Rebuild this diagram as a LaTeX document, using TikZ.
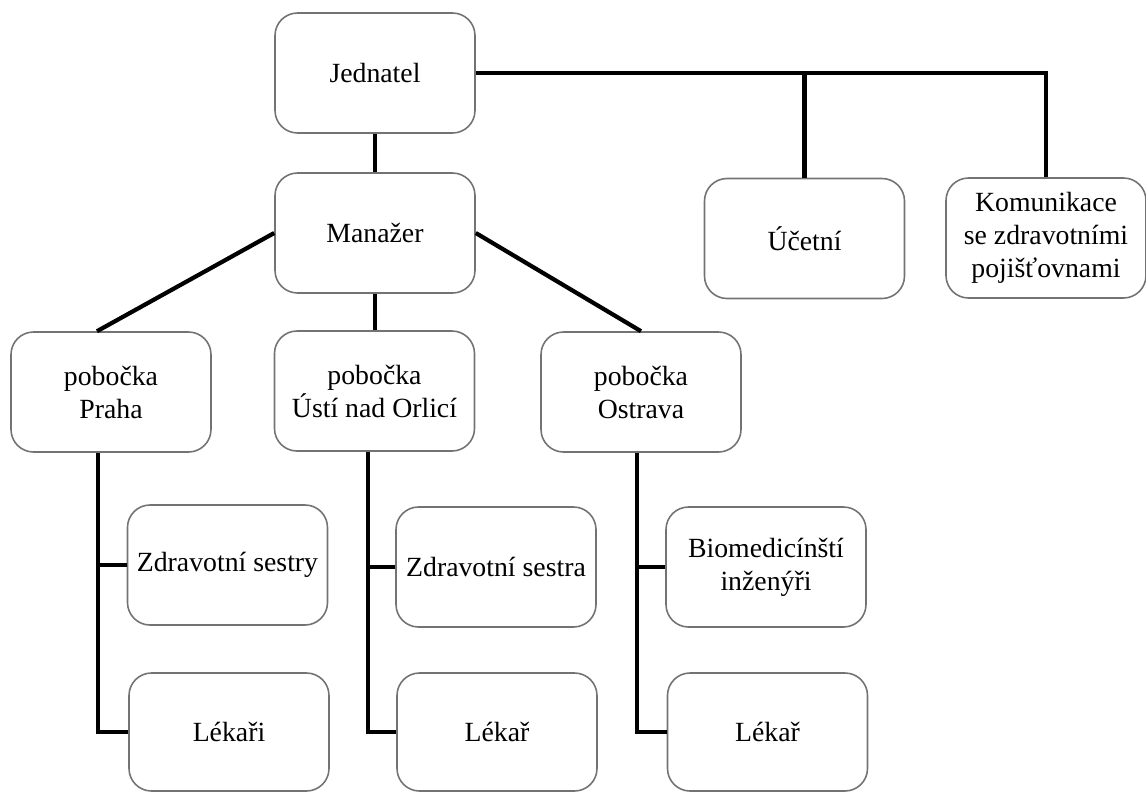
\documentclass[tikz,border=0pt]{standalone}
\usepackage{fontspec}
\setmainfont{Liberation Serif}
\begin{document}
\begin{tikzpicture}[
        org_box/.style={draw=black!55, line width=0.9pt, rounded corners=0.45cm, minimum width=4cm, minimum height=2.4cm, align=center, fill=white, inner sep=2pt, font=\fontsize{15.8}{18.8}\selectfont},
        low_box/.style={org_box, minimum height=2.36cm},
        link_line/.style={line width=2.4pt, black}
    ]
        \useasboundingbox (0, 0) rectangle (22.92, -15.84);

        % Top level
        \node[org_box] (jed) at (7.5, -1.46) {Jednatel};
        \node[org_box] (man) at (7.5, -4.66) {Manažer};
        \node[org_box] (ucet) at (16.09, -4.77) {Účetní};
        \node[org_box] (kom) at (20.92, -4.76) {Komunikace\\se zdravotními\\pojišťovnami};

        % Branches
        \node[org_box] (praha) at (2.22, -7.84) {pobočka\\Praha};
        \node[org_box] (usti) at (7.49, -7.82) {pobočka\\Ústí nad Orlicí};
        \node[org_box] (ostrava) at (12.82, -7.84) {pobočka\\Ostrava};

        % Staff
        \node[org_box] (sestry) at (4.55, -11.3) {Zdravotní sestry};
        \node[low_box] (lekari) at (4.58, -14.64) {Lékaři};
        \node[org_box] (sestra) at (9.92, -11.34) {Zdravotní sestra};
        \node[low_box] (lekar_u) at (9.94, -14.64) {Lékař};
        \node[org_box] (bio) at (15.32, -11.34) {Biomedicínští\\inženýři};
        \node[low_box] (lekar_o) at (15.35, -14.64) {Lékař};

        % Links from the top
        \draw[link_line] (jed.south) -- (man.north);
        \draw[link_line] (jed.east) -| (kom.north);
        \draw[link_line] (ucet.north) -- (ucet.north |- jed.east);
        \draw[link_line] (man.west) -- ([xshift=-0.28cm]praha.north);
        \draw[link_line] (man.south) -- (man.south |- usti.north);
        \draw[link_line] (man.east) -- (ostrava.north);

        % Links inside the branches
        \coordinate (pv) at ([xshift=-0.26cm]praha.south);
        \coordinate (uv) at ([xshift=-0.13cm]usti.south);
        \coordinate (ov) at ([xshift=-0.08cm]ostrava.south);
        \draw[link_line] (pv) |- (lekari.west);
        \draw[link_line] (sestry.west) -- (sestry.west -| pv);
        \draw[link_line] (uv) |- (lekar_u.west);
        \draw[link_line] (sestra.west) -- (sestra.west -| uv);
        \draw[link_line] (ov) |- (lekar_o.west);
        \draw[link_line] (bio.west) -- (bio.west -| ov);
    \end{tikzpicture}
\end{document}
